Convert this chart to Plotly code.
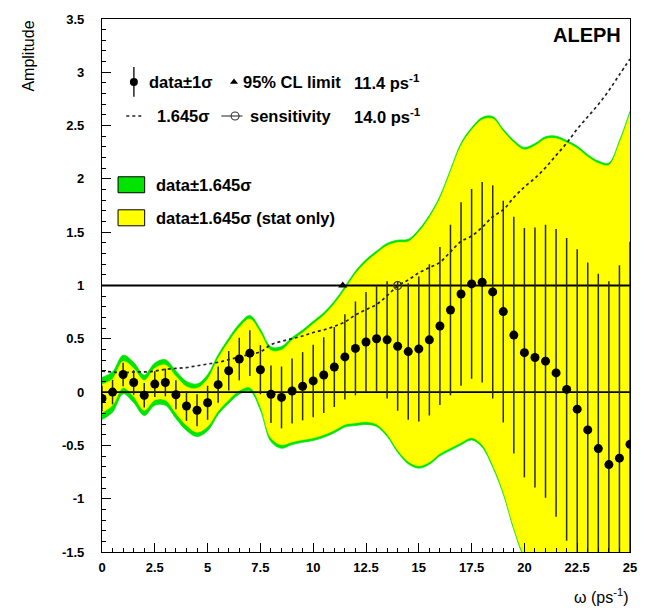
import plotly.graph_objects as go

omega = [0, 0.5, 1, 1.5, 2, 2.5, 3, 3.5, 4, 4.5, 5, 5.5, 6, 6.5, 7, 7.5, 8, 8.5, 9, 9.5,
         10, 10.5, 11, 11.5, 12, 12.5, 13, 13.5, 14, 14.5, 15, 15.5, 16, 16.5, 17, 17.5,
         18, 18.5, 19, 19.5, 20, 20.5, 21, 21.5, 22, 22.5, 23, 23.5, 24, 24.5, 25]
amp = [-0.06, 0.00, 0.165, 0.09, -0.03, 0.075, 0.09, -0.025, -0.13, -0.17, -0.10, 0.07,
       0.20, 0.31, 0.365, 0.21, -0.02, -0.05, 0.01, 0.055, 0.105, 0.16, 0.235, 0.33,
       0.41, 0.47, 0.50, 0.49, 0.43, 0.38, 0.405, 0.49, 0.62, 0.77, 0.92, 1.015,
       1.03, 0.94, 0.755, 0.535, 0.37, 0.325, 0.29, 0.18, 0.025, -0.16, -0.355, -0.53,
       -0.68, -0.62, -0.49]
err_tot = [0.12, 0.115, 0.11, 0.115, 0.115, 0.12, 0.13, 0.135, 0.14, 0.15, 0.16, 0.17,
           0.185, 0.20, 0.215, 0.23, 0.27, 0.29, 0.305, 0.32, 0.34, 0.355, 0.375, 0.40,
           0.44, 0.47, 0.50, 0.55, 0.605, 0.64, 0.68, 0.71, 0.74, 0.80, 0.86, 0.89,
           0.94, 1.00, 1.04, 1.11, 1.17, 1.22, 1.28, 1.35, 1.42, 1.50, 1.57, 1.64,
           1.72, 1.81, 1.90]
err_stat = [0.08, 0.075, 0.075, 0.08, 0.085, 0.09, 0.10, 0.105, 0.11, 0.125, 0.135, 0.15,
            0.165, 0.18, 0.195, 0.21, 0.25, 0.27, 0.29, 0.305, 0.325, 0.34, 0.36, 0.385,
            0.425, 0.455, 0.487, 0.537, 0.592, 0.627, 0.667, 0.697, 0.727, 0.787, 0.847, 0.877,
            0.927, 0.987, 1.027, 1.097, 1.157, 1.207, 1.267, 1.337, 1.407, 1.487, 1.557, 1.627,
            1.707, 1.797, 1.887]
cl_limit = 11.4
sensitivity = 14.0
k = 1.645

x_ticks = [0, 2.5, 5, 7.5, 10, 12.5, 15, 17.5, 20, 22.5, 25]
x_ticktext = ["0", "2.5", "5", "7.5", "10", "12.5", "15", "17.5", "20", "22.5", "25"]
y_ticks = [-1.5, -1, -0.5, 0, 0.5, 1, 1.5, 2, 2.5, 3, 3.5]
y_ticktext = ["-1.5", "-1", "-0.5", "0", "0.5", "1", "1.5", "2", "2.5", "3", "3.5"]

GREEN = "#00e400"
YELLOW = "#ffff00"

tot_hi = [a + k * e for a, e in zip(amp, err_tot)]
tot_lo = [a - k * e for a, e in zip(amp, err_tot)]
st_hi = [a + k * e for a, e in zip(amp, err_stat)]
st_lo = [a - k * e for a, e in zip(amp, err_stat)]
dashed = [k * e for e in err_tot]

fig = go.Figure()
# total band (green)
fig.add_trace(go.Scatter(x=omega, y=tot_lo, mode="lines", line=dict(color=GREEN, width=0.8, shape="spline"),
                         hoverinfo="skip", showlegend=False))
fig.add_trace(go.Scatter(x=omega, y=tot_hi, mode="lines", line=dict(color=GREEN, width=0.8, shape="spline"),
                         fill="tonexty", fillcolor=GREEN, hoverinfo="skip", showlegend=False))
# stat band (yellow)
fig.add_trace(go.Scatter(x=omega, y=st_lo, mode="lines", line=dict(color=YELLOW, width=0.5, shape="spline"),
                         hoverinfo="skip", showlegend=False))
fig.add_trace(go.Scatter(x=omega, y=st_hi, mode="lines", line=dict(color=YELLOW, width=0.5, shape="spline"),
                         fill="tonexty", fillcolor=YELLOW, hoverinfo="skip", showlegend=False))
# reference lines
for yv in (0, 1):
    fig.add_trace(go.Scatter(x=[omega[0], omega[-1]], y=[yv, yv], mode="lines",
                             line=dict(color="black", width=1.8), hoverinfo="skip", showlegend=False))
# 1.645 sigma curve
fig.add_trace(go.Scatter(x=omega, y=dashed, mode="lines",
                         line=dict(color="#222222", width=1.7, dash="3px,3px", shape="spline"),
                         hoverinfo="skip", showlegend=False))
# data points
fig.add_trace(go.Scatter(x=omega, y=amp, mode="markers",
                         marker=dict(color="black", size=9, symbol="circle"),
                         error_y=dict(type="data", array=err_tot, visible=True, color="#2a2a08",
                                      thickness=1.5, width=0),
                         hoverinfo="skip", showlegend=False))
# limit markers
fig.add_trace(go.Scatter(x=[cl_limit], y=[1], mode="markers",
                         marker=dict(color="black", size=8, symbol="triangle-up"),
                         hoverinfo="skip", showlegend=False))
fig.add_trace(go.Scatter(x=[sensitivity], y=[1], mode="markers",
                         marker=dict(color="rgba(0,0,0,0)", size=8, symbol="circle",
                                     line=dict(color="#333333", width=1.2)),
                         hoverinfo="skip", showlegend=False))

# ----- legend (drawn manually) -----
FONT = "Liberation Sans, Arial, sans-serif"
LS = 16.5
shapes = []
ann = []

def txt(x, y, s, size=LS, anchor="left", bold=True):
    ann.append(dict(x=x, y=y, xref="x", yref="y", text=(f"<b>{s}</b>" if bold else s),
                    showarrow=False, xanchor=anchor, yanchor="middle",
                    font=dict(family=FONT, size=size, color="black")))

r1, r2 = 2.91, 2.59
# data +-1 sigma icon
shapes.append(dict(type="line", x0=1.51, x1=1.51, y0=2.77, y1=3.05, xref="x", yref="y",
                   line=dict(color="black", width=1.3)))
fig.add_trace(go.Scatter(x=[1.51], y=[r1], mode="markers", marker=dict(color="black", size=8),
                         hoverinfo="skip", showlegend=False, cliponaxis=False))
txt(2.15, r1, "data±1σ")
fig.add_trace(go.Scatter(x=[6.25], y=[r1], mode="markers",
                         marker=dict(color="black", size=7, symbol="triangle-up"),
                         hoverinfo="skip", showlegend=False))
txt(6.6, r1, "95% CL limit")
txt(11.85, r1, "11.4 ps<sup>-1</sup>")
# dashed icon
shapes.append(dict(type="line", x0=1.15, x1=1.95, y0=r2, y1=r2, xref="x", yref="y",
                   line=dict(color="#222222", width=1.3, dash="3px,3px")))
txt(2.5, r2, "1.645σ")
shapes.append(dict(type="line", x0=5.65, x1=6.65, y0=r2, y1=r2, xref="x", yref="y",
                   line=dict(color="#333333", width=1.1)))
fig.add_trace(go.Scatter(x=[6.3], y=[r2], mode="markers",
                         marker=dict(color="white", size=8, symbol="circle",
                                     line=dict(color="#333333", width=1.1)),
                         hoverinfo="skip", showlegend=False))
txt(6.9, r2, "sensitivity")
txt(11.85, r2, "14.0 ps<sup>-1</sup>")
# band boxes
shapes.append(dict(type="rect", x0=0.76, x1=2.02, y0=1.87, y1=2.02, xref="x", yref="y",
                   fillcolor=GREEN, line=dict(color="black", width=1)))
txt(2.45, 1.945, "data±1.645σ")
shapes.append(dict(type="rect", x0=0.76, x1=2.02, y0=1.56, y1=1.71, xref="x", yref="y",
                   fillcolor=YELLOW, line=dict(color="black", width=1)))
txt(2.45, 1.635, "data±1.645σ (stat only)")
# ALEPH
txt(24.66, 3.35, "ALEPH", size=20, anchor="right")

# axis titles
ann.append(dict(x=1.0, y=-0.083, xref="paper", yref="paper", text="ω (ps<sup>-1</sup>)",
                showarrow=False, xanchor="right", yanchor="middle",
                font=dict(family=FONT, size=16, color="black")))
ann.append(dict(x=-0.14, y=1.0, xref="paper", yref="paper", text="Amplitude", textangle=-90,
                showarrow=False, xanchor="center", yanchor="top",
                font=dict(family=FONT, size=16, color="black")))

fig.update_layout(
    width=650, height=610,
    margin=dict(l=102, r=20, t=12, b=58),
    paper_bgcolor="white", plot_bgcolor="white",
    shapes=shapes, annotations=ann,
    showlegend=False,
    font=dict(family=FONT, color="black"),
)
fig.update_xaxes(range=[0, 25], tickvals=x_ticks, ticktext=x_ticktext,
                 ticks="inside", ticklen=9, tickwidth=1, tickcolor="black",
                 minor=dict(dtick=0.5, ticks="inside", ticklen=4, tickcolor="black", showgrid=False),
                 showline=True, linecolor="black", linewidth=1.2, mirror=True,
                 showgrid=False, zeroline=False,
                 tickfont=dict(family=FONT, size=13, weight="bold"), ticklabelstandoff=3)
fig.update_yaxes(range=[-1.5, 3.5], tickvals=y_ticks, ticktext=y_ticktext,
                 ticks="inside", ticklen=9, tickwidth=1, tickcolor="black",
                 minor=dict(dtick=0.1, ticks="inside", ticklen=4, tickcolor="black", showgrid=False),
                 showline=True, linecolor="black", linewidth=1.2, mirror=True,
                 showgrid=False, zeroline=False,
                 tickfont=dict(family=FONT, size=13, weight="bold"), ticklabelstandoff=14)

fig.write_html("out.html")
